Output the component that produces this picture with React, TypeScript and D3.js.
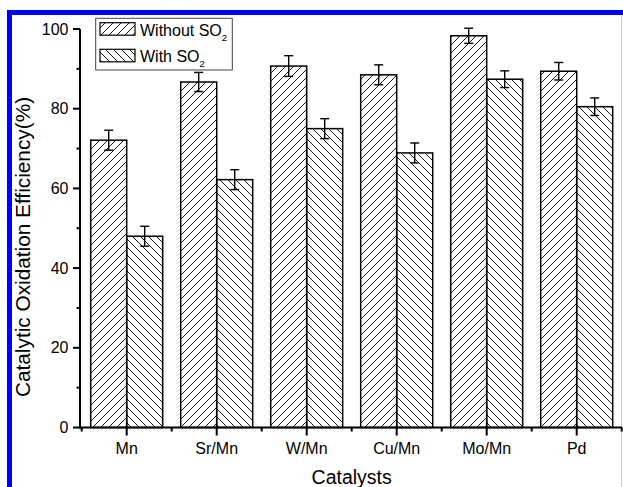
import React from "react";
import * as d3 from "d3";

const categories = ["Mn", "Sr/Mn", "W/Mn", "Cu/Mn", "Mo/Mn", "Pd"];
const seriesNames = ["Without SO", "With SO"];
const withoutSO2 = [72.1, 86.7, 90.7, 88.5, 98.3, 89.4];
const withSO2 = [48.0, 62.2, 75.0, 68.9, 87.4, 80.5];
const errWithout = [2.5, 2.4, 2.6, 2.5, 1.9, 2.2];
const errWith = [2.5, 2.5, 2.5, 2.5, 2.1, 2.2];
const yMajorTicks = [0, 20, 40, 60, 80, 100];
const yMinorTicks = [10, 30, 50, 70, 90];

const W = 623;
const H = 487;
const FONT = "'Liberation Sans', Arial, Helvetica, sans-serif";

export default function App() {
  const x = d3
    .scaleBand<string>()
    .domain(categories)
    .range([81.7, 621.7])
    .paddingInner(0.2)
    .paddingOuter(0.1);
  const sub = d3
    .scaleBand<string>()
    .domain(["without", "with"])
    .range([0, x.bandwidth()]);
  const y = d3.scaleLinear().domain([0, 100]).range([427.5, 29]);

  const step = x.step();
  const boundaries = d3.range(categories.length + 1).map((i) => 81.7 + i * step);

  const series = [
    { key: "without", values: withoutSO2, errs: errWithout, fill: "url(#hatchFwd)" },
    { key: "with", values: withSO2, errs: errWith, fill: "url(#hatchBack)" },
  ];

  const y0 = y(0);

  return (
    <svg
      width={W}
      height={H}
      style={{ position: "absolute", left: 0, top: 0, background: "#fff" }}
      fontFamily={FONT}
    >
      <defs>
        <pattern id="hatchFwd" patternUnits="userSpaceOnUse" width={8} height={8}>
          <path d="M-2,2 L2,-2 M0,8 L8,0 M6,10 L10,6" stroke="#000" strokeWidth={0.9} />
        </pattern>
        <pattern id="hatchBack" patternUnits="userSpaceOnUse" width={8} height={8}>
          <path d="M-2,6 L2,10 M0,0 L8,8 M6,-2 L10,2" stroke="#000" strokeWidth={0.9} />
        </pattern>
      </defs>

      <rect x={0} y={0} width={W} height={H} fill="#fff" />

      {/* frame */}
      <rect x={7} y={10} width={W - 7} height={5} fill="#0000ff" />
      <rect x={7} y={10} width={5} height={H - 10} fill="#0000ff" />
      <line x1={621.5} y1={15} x2={621.5} y2={H} stroke="#c8c8f0" strokeWidth={1} />

      {/* bars */}
      {series.map((s) =>
        categories.map((c, i) => {
          const bx = (x(c) ?? 0) + (sub(s.key) ?? 0);
          const top = y(s.values[i]);
          return (
            <rect
              key={s.key + c}
              x={bx}
              y={top}
              width={sub.bandwidth()}
              height={y0 - top}
              fill={s.fill}
              stroke="#000"
              strokeWidth={1.5}
            />
          );
        })
      )}

      {/* error bars */}
      {series.map((s) =>
        categories.map((c, i) => {
          const cx = (x(c) ?? 0) + (sub(s.key) ?? 0) + sub.bandwidth() / 2;
          const hi = y(s.values[i] + s.errs[i]);
          const lo = y(s.values[i] - s.errs[i]);
          return (
            <g key={"e" + s.key + c} stroke="#000" strokeWidth={1.4}>
              <line x1={cx} x2={cx} y1={hi} y2={lo} />
              <line x1={cx - 4.5} x2={cx + 4.5} y1={hi} y2={hi} />
              <line x1={cx - 4.5} x2={cx + 4.5} y1={lo} y2={lo} />
            </g>
          );
        })
      )}

      {/* y axis */}
      <line x1={80} x2={80} y1={y(100)} y2={y0 + 1} stroke="#000" strokeWidth={2} />
      {yMajorTicks.map((t) => (
        <g key={"ym" + t}>
          <line x1={73} x2={80} y1={y(t)} y2={y(t)} stroke="#000" strokeWidth={2} />
          <text
            x={68.5}
            y={y(t)}
            textAnchor="end"
            dominantBaseline="central"
            fontSize={16}
            fill="#000"
          >
            {t}
          </text>
        </g>
      ))}
      {yMinorTicks.map((t) => (
        <line key={"yn" + t} x1={76.5} x2={80} y1={y(t)} y2={y(t)} stroke="#000" strokeWidth={2} />
      ))}

      {/* x axis */}
      <line x1={79} x2={622} y1={y0} y2={y0} stroke="#000" strokeWidth={2} />
      {categories.map((c) => {
        const cx = (x(c) ?? 0) + x.bandwidth() / 2;
        return (
          <g key={"xm" + c}>
            <line x1={cx} x2={cx} y1={y0} y2={y0 + 8} stroke="#000" strokeWidth={2} />
            <text x={cx} y={453.5} textAnchor="middle" fontSize={16} fill="#000">
              {c}
            </text>
          </g>
        );
      })}
      {boundaries.map((b, i) => (
        <line key={"xb" + i} x1={b} x2={b} y1={y0} y2={y0 + 4} stroke="#000" strokeWidth={2} />
      ))}

      {/* axis titles */}
      <text x={351.7} y={483.5} textAnchor="middle" fontSize={19.5} fill="#000">
        Catalysts
      </text>
      <text
        transform="translate(30,247) rotate(-90)"
        textAnchor="middle"
        fontSize={20.8}
        fill="#000"
      >
        Catalytic Oxidation Efficiency(%)
      </text>

      {/* legend */}
      <rect x={95.7} y={18.3} width={136.6} height={51.7} fill="#fff" stroke="#444" strokeWidth={1} />
      {series.map((s, i) => {
        const sy = i === 0 ? 22.7 : 49.3;
        const by = i === 0 ? 35.7 : 62.4;
        return (
          <g key={"lg" + s.key}>
            <rect x={100} y={sy} width={35} height={12.5} fill={s.fill} stroke="#000" strokeWidth={1.2} />
            <text x={140} y={by} fontSize={16} fill="#000">
              {seriesNames[i]}
              <tspan fontSize={9.5} dy={5}>
                2
              </tspan>
            </text>
          </g>
        );
      })}
    </svg>
  );
}
